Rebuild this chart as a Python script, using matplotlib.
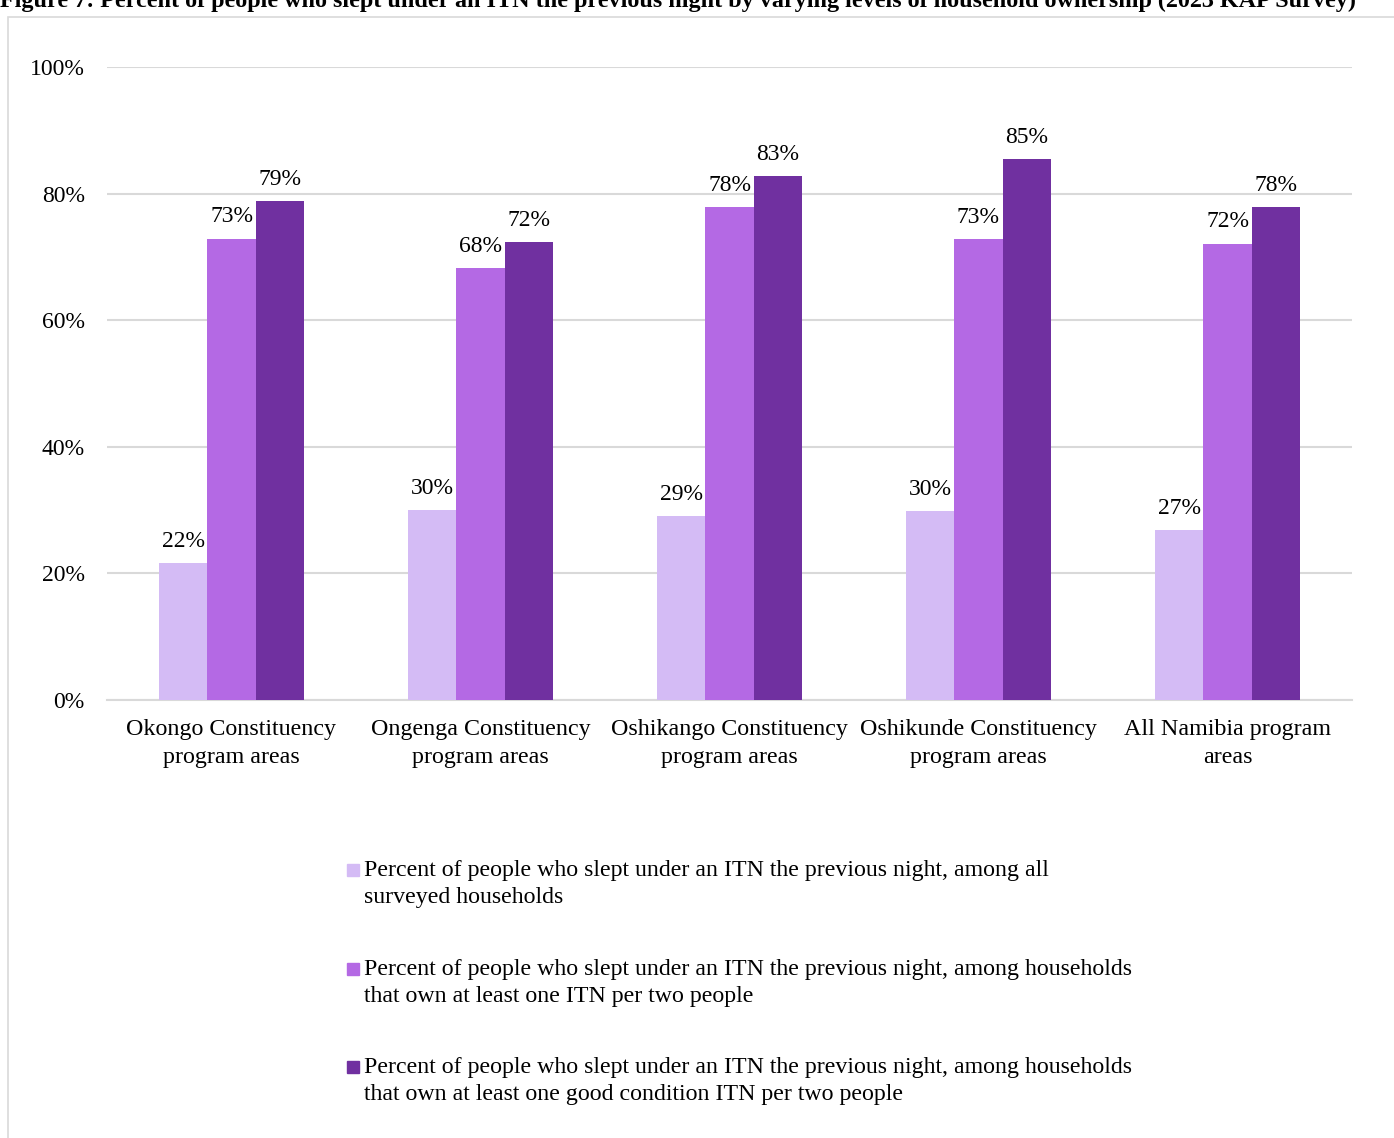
import matplotlib
matplotlib.use("Agg")
import matplotlib.pyplot as plt
from matplotlib.patches import Rectangle
import numpy as np

categories = ["Okongo Constituency\nprogram areas", "Ongenga Constituency\nprogram areas",
              "Oshikango Constituency\nprogram areas", "Oshikunde Constituency\nprogram areas",
              "All Namibia program\nareas"]
all_households = [21.6, 30.0, 29.1, 29.9, 26.9]
one_per_two = [72.9, 68.2, 77.9, 72.8, 72.1]
good_per_two = [78.8, 72.3, 82.8, 85.4, 77.9]
series_labels = [
    "Percent of people who slept under an ITN the previous night, among all\nsurveyed households",
    "Percent of people who slept under an ITN the previous night, among households\nthat own at least one ITN per two people",
    "Percent of people who slept under an ITN the previous night, among households\nthat own at least one good condition ITN per two people",
]
yticks = [0, 20, 40, 60, 80, 100]
title = ("Figure 7: Percent of people who slept under an ITN the previous night by varying "
         "levels of household ownership (2023 KAP Survey)")

colors = ["#D4BBF5", "#B469E4", "#7030A0"]
plt.rcParams["font.family"] = ["Liberation Serif", "DejaVu Serif"]

W, H = 1394, 1138
fig = plt.figure(figsize=(W / 100, H / 100), dpi=100)
ax = fig.add_axes([107 / W, 1 - 700 / H, (1352 - 107) / W, (700 - 67) / H])

x = np.arange(len(categories))
bw = 0.193
series = [all_households, one_per_two, good_per_two]
for i, (vals, c) in enumerate(zip(series, colors)):
    pos = x + (i - 1) * bw
    ax.bar(pos, vals, width=bw, color=c, zorder=3)
    for xp, v in zip(pos, vals):
        ax.annotate(f"{v:.0f}%", (xp, v), xytext=(0, 8), textcoords="offset points",
                    ha="center", va="bottom", fontsize=17, color="#000000")

ax.set_xlim(-0.5, 4.5)
ax.set_ylim(0, 100)
ax.set_yticks(yticks)
ax.set_yticklabels([f"{t}%" for t in yticks])
ax.set_xticks(x)
ax.set_xticklabels(categories, fontsize=17.3, linespacing=1.42)
ax.tick_params(axis="y", length=0, pad=16, labelsize=17)
ax.tick_params(axis="x", length=0, pad=14)
ax.grid(axis="y", color="#D9D9D9", linewidth=1.5, zorder=0)
for s in ["top", "right", "left"]:
    ax.spines[s].set_visible(False)
ax.spines["bottom"].set_color("#D9D9D9")
ax.spines["bottom"].set_linewidth(1.5)

# outer chart border
fig.patches.append(Rectangle((8 / W, -0.01), 1.02, 1 - 17 / H + 0.01, transform=fig.transFigure,
                             fill=False, edgecolor="#D9D9D9", linewidth=1.2))

# title (cut off at top, as in the source)
fig.text(678 / W, 1 - 7 / H, title, ha="center", va="baseline", fontsize=17.4,
         fontweight="bold")

# legend
ys = [870, 969, 1067]
for y, c, lab in zip(ys, colors, series_labels):
    fig.patches.append(Rectangle((347 / W, 1 - (y + 6) / H), 12 / W, 12 / H,
                                 transform=fig.transFigure, color=c))
    fig.text(364 / W, 1 - (y - 10) / H, lab, ha="left", va="top", fontsize=17.2,
             linespacing=1.38)

fig.savefig("out.png", dpi=100)
